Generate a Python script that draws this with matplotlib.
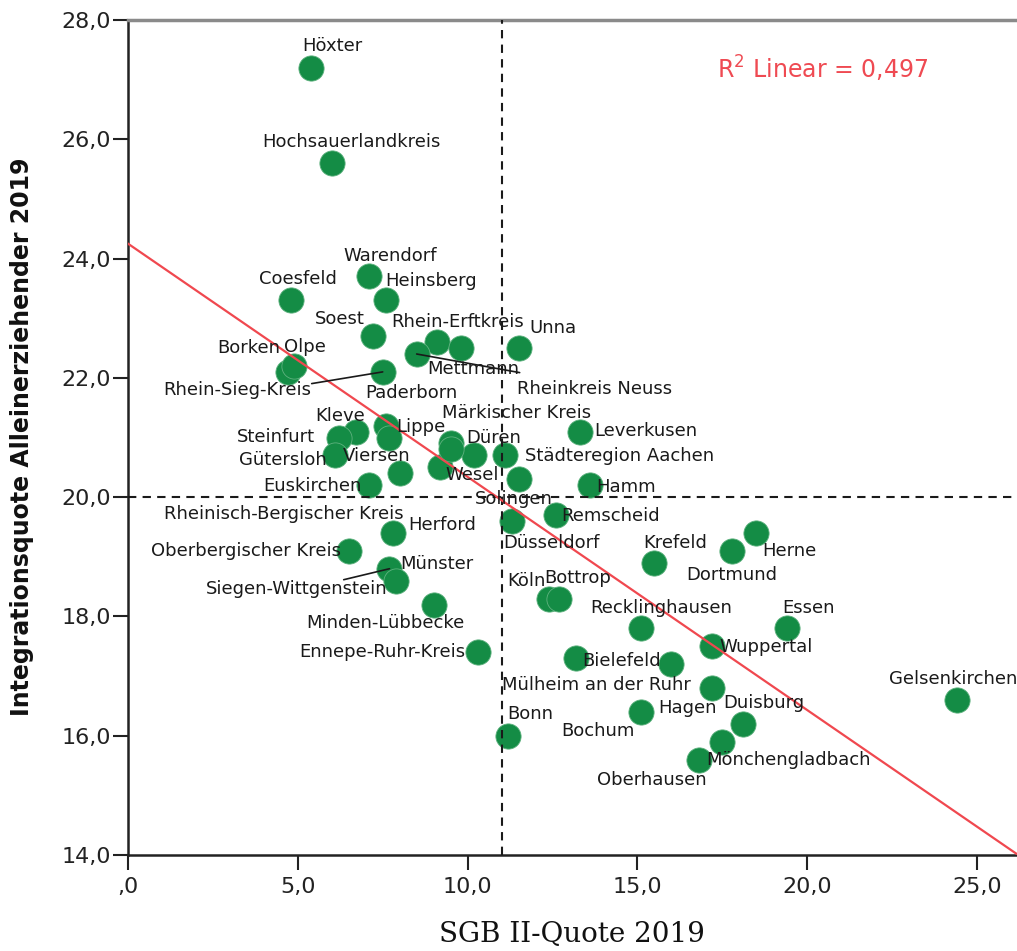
import matplotlib
matplotlib.use("Agg")
import matplotlib.pyplot as plt

plt.rcParams['font.family'] = ['DejaVu Sans']
plt.rcParams['mathtext.default'] = 'regular'

# ---- data -------------------------------------------------------------
names = [
    "Höxter", "Hochsauerlandkreis", "Warendorf", "Heinsberg", "Coesfeld",
    "Soest", "Rhein-Erftkreis", "Unna", "Borken", "Olpe",
    "Rhein-Sieg-Kreis", "Mettmann", "Rheinkreis Neuss", "Paderborn", "Lippe",
    "Kleve", "Steinfurt", "Gütersloh", "Viersen", "Euskirchen",
    "Märkischer Kreis", "Düren", "Wesel", "Städteregion Aachen", "Leverkusen",
    "Hamm", "Solingen", "Rheinisch-Bergischer Kreis", "Remscheid", "Düsseldorf",
    "Krefeld", "Herne", "Dortmund", "Köln", "Bottrop",
    "Recklinghausen", "Essen", "Wuppertal", "Bielefeld", "Mülheim an der Ruhr",
    "Hagen", "Bochum", "Bonn", "Duisburg", "Mönchengladbach",
    "Oberhausen", "Gelsenkirchen", "Herford", "Oberbergischer Kreis", "Siegen-Wittgenstein",
    "Münster", "Minden-Lübbecke", "Ennepe-Ruhr-Kreis",
]
sgb2_quote = [
    5.4, 6.0, 7.1, 7.6, 4.8,
    7.2, 9.1, 11.5, 4.7, 4.9,
    7.5, 8.5, 9.8, 7.6, 7.7,
    6.7, 6.2, 6.1, 8.0, 7.1,
    9.5, 10.2, 9.2, 11.1, 13.3,
    13.6, 11.5, 9.5, 12.6, 11.3,
    15.5, 18.5, 17.8, 12.4, 12.7,
    15.1, 19.4, 17.2, 13.2, 16.0,
    17.2, 15.1, 11.2, 18.1, 17.5,
    16.8, 24.4, 7.8, 6.5, 7.7,
    7.9, 9.0, 10.3,
]
integrationsquote = [
    27.2, 25.6, 23.7, 23.3, 23.3,
    22.7, 22.6, 22.5, 22.1, 22.2,
    22.1, 22.4, 22.5, 21.2, 21.0,
    21.1, 21.0, 20.7, 20.4, 20.2,
    20.9, 20.7, 20.5, 20.7, 21.1,
    20.2, 20.3, 20.8, 19.7, 19.6,
    18.9, 19.4, 19.1, 18.3, 18.3,
    17.8, 17.8, 17.5, 17.3, 17.2,
    16.8, 16.4, 16.0, 16.2, 15.9,
    15.6, 16.6, 19.4, 19.1, 18.8,
    18.6, 18.2, 17.4,
]
ref_x = 11.0          # vertical reference line (SGB II-Quote)
ref_y = 20.0          # horizontal reference line (Integrationsquote)
fit_intercept = 24.25  # linear fit
fit_slope = -0.391
r2_text = "R$^{2}$ Linear = 0,497"
x_ticks = [0, 5, 10, 15, 20, 25]
x_ticklabels = [",0", "5,0", "10,0", "15,0", "20,0", "25,0"]
y_ticks = [14, 16, 18, 20, 22, 24, 26, 28]
y_ticklabels = ["14,0", "16,0", "18,0", "20,0", "22,0", "24,0", "26,0", "28,0"]

# ---- label placement (pixel offsets from the point, x right / y up) ----
label_offsets = {
    "Höxter": (21, 22), "Hochsauerlandkreis": (20, 21), "Warendorf": (21, 20),
    "Heinsberg": (45, 19), "Coesfeld": (7, 21), "Soest": (-33, 17),
    "Rhein-Erftkreis": (21, 20), "Unna": (34, 20), "Borken": (-39, 24),
    "Olpe": (11, 19), "Rhein-Sieg-Kreis": (-145, -18), "Mettmann": (57, -15),
    "Rheinkreis Neuss": (134, -41), "Paderborn": (25, 33), "Lippe": (31, 10),
    "Kleve": (-15, 16), "Steinfurt": (-63, 1), "Gütersloh": (-52, -5),
    "Viersen": (-23, 17), "Euskirchen": (-57, -1), "Märkischer Kreis": (66, 30),
    "Düren": (19, 17), "Wesel": (32, -8), "Städteregion Aachen": (115, -1),
    "Leverkusen": (66, 1), "Hamm": (36, -2), "Solingen": (-5, -20),
    "Rheinisch-Bergischer Kreis": (-167, -65), "Remscheid": (55, -1),
    "Düsseldorf": (40, -22), "Krefeld": (21, 20), "Herne": (33, -18),
    "Dortmund": (-1, -24), "Köln": (-23, 18), "Bottrop": (18, 21),
    "Recklinghausen": (20, 20), "Essen": (22, 20), "Wuppertal": (54, -1),
    "Bielefeld": (45, -3), "Mülheim an der Ruhr": (-75, -21), "Hagen": (-25, -20),
    "Bochum": (-43, -19), "Bonn": (22, 22), "Duisburg": (21, 21),
    "Mönchengladbach": (66, -18), "Oberhausen": (-47, -20), "Gelsenkirchen": (-3, 21),
    "Herford": (49, 8), "Oberbergischer Kreis": (-103, 0),
    "Siegen-Wittgenstein": (-93, -20), "Münster": (41, 17),
    "Minden-Lübbecke": (-48, -18), "Ennepe-Ruhr-Kreis": (-95, 0),
}
leader_relpos = {
    "Rhein-Sieg-Kreis": (1.0, 0.85),
    "Mettmann": (1.0, 0.3),
    "Siegen-Wittgenstein": (0.76, 1.0),
}

W, H = 1017, 951
fig = plt.figure(figsize=(W / 100, H / 100), dpi=100)
ax = fig.add_axes([128 / W, 1 - 855 / H, (W - 128) / W, (855 - 20) / H])

xmax = (W - 128) / 33.96
ax.set_xlim(0, xmax)
ax.set_ylim(14, 28)

dot_color = '#148c45'
ax.scatter(sgb2_quote, integrationsquote, s=330, color=dot_color,
           edgecolors='#5fb27f', linewidths=0.6, zorder=2)

ax.axvline(ref_x, color='#1a1a1a', lw=1.5, ls=(0, (4, 3)), zorder=3)
ax.axhline(ref_y, color='#1a1a1a', lw=1.5, ls=(0, (4, 3)), zorder=3)

fx = [0, xmax]
fy = [fit_intercept + fit_slope * v for v in fx]
ax.plot(fx, fy, color='#f0484f', lw=1.6, zorder=3)

for n, xv, yv in zip(names, sgb2_quote, integrationsquote):
    dx, dy = label_offsets[n]
    kw = {}
    if n in leader_relpos:
        kw['arrowprops'] = dict(arrowstyle='-', color='#1a1a1a', lw=1.2,
                                shrinkA=0, shrinkB=0, patchA=None,
                                relpos=leader_relpos[n])
    ax.annotate(n, (xv, yv), xytext=(dx, dy), textcoords='offset pixels',
                ha='center', va='center', fontsize=13, color='#1a1a1a',
                zorder=4, annotation_clip=False, **kw)

ax.text(0.781, 0.941, r2_text, transform=ax.transAxes, ha='center', va='center',
        fontsize=17, color='#ef4a52')

ax.set_xticks(x_ticks)
ax.set_xticklabels(x_ticklabels)
ax.set_yticks(y_ticks)
ax.set_yticklabels(y_ticklabels)
ax.tick_params(axis='both', direction='out', length=11, width=1.5,
               color='#222222', labelsize=16, labelcolor='#222222')
ax.tick_params(axis='x', pad=5)
ax.tick_params(axis='y', pad=1)

for side in ['left', 'bottom']:
    ax.spines[side].set_color('#222222')
    ax.spines[side].set_linewidth(1.8)
ax.spines['top'].set_color('#8a8a8a')
ax.spines['top'].set_linewidth(2.5)
ax.spines['right'].set_visible(False)

fig.text(22 / W, 1 - 437 / H, "Integrationsquote Alleinerziehender 2019",
         rotation=90, ha='center', va='center', fontsize=17, fontweight='bold',
         color='#111111')
fig.text(572 / W, 1 - 935 / H, "SGB II-Quote 2019", ha='center', va='center',
         fontsize=20, family='DejaVu Serif', color='#111111')

fig.savefig("out.png", dpi=100)
